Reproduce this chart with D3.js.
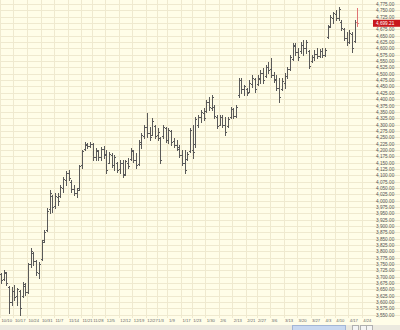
<!DOCTYPE html>
<html>
<head>
<meta charset="utf-8">
<script src="https://cdn.jsdelivr.net/npm/d3@7"></script>
<style>
  body { margin: 0; background: #fffde9; }
  svg { display: block; }
</style>
</head>
<body>
<svg id="chart" width="400" height="330"></svg>
<script>
// week start labels and trading days in each week
const weekLabels = [ "10/10", "10/17", "10/24", "10/31", "11/7", "11/14", "11/21", "11/28", "12/5", "12/12",
  "12/19", "12/27", "1/3", "1/9", "1/17", "1/23", "1/30", "2/6", "2/13", "2/21", "2/27", "3/6", "3/13",
  "3/20", "3/27", "4/3", "4/10", "4/17", "4/24" ];
const weekDays = [ 5, 5, 5, 5, 5, 5, 4, 5, 5, 5, 5, 4, 4, 5, 4, 5, 5, 5, 5, 4, 5, 5, 5, 5, 5, 4, 5, 5, 5 ];

const opens = [ 3710, 3690, 3715, 3660, 3600, 3645, 3625, 3645, 3625, 3665,
  3640, 3750, 3795, 3760, 3715, 3770, 3845, 3885, 3965, 4020,
  3980, 4015, 4020, 4050, 4080, 4110, 4075, 4045, 4030, 4050,
  4140, 4205, 4220, 4215, 4225, 4170, 4195, 4170, 4205, 4185,
  4150, 4180, 4140, 4150, 4125, 4150, 4105, 4150, 4165, 4195,
  4160, 4145, 4225, 4255, 4290, 4265, 4260, 4295, 4260, 4245,
  4255, 4285, 4240, 4275, 4235, 4220, 4205, 4180, 4150, 4165,
  4195, 4200, 4225, 4300, 4330, 4345, 4355, 4390, 4365, 4370,
  4330, 4300, 4330, 4300, 4295, 4330, 4360, 4335, 4415, 4475,
  4440, 4440, 4430, 4460, 4480, 4460, 4480, 4505, 4490, 4525,
  4520, 4495, 4480, 4445, 4440, 4465, 4490, 4520, 4560, 4610,
  4585, 4590, 4615, 4600, 4590, 4550, 4565, 4580, 4570, 4590,
  4575, 4645, 4690, 4720, 4735, 4720, 4705, 4675, 4640, 4625,
  4655, 4630, 4705 ];
const highs = [ 3716, 3728, 3720, 3665, 3660, 3668, 3656, 3649, 3680, 3676,
  3755, 3814, 3799, 3767, 3759, 3846, 3885, 3972, 4043, 4023,
  4031, 4031, 4062, 4094, 4118, 4122, 4082, 4062, 4051, 4141,
  4200, 4232, 4228, 4232, 4228, 4208, 4200, 4212, 4216, 4200,
  4192, 4188, 4181, 4153, 4161, 4161, 4161, 4169, 4208, 4200,
  4188, 4240, 4267, 4299, 4346, 4291, 4326, 4299, 4287, 4251,
  4299, 4291, 4287, 4279, 4247, 4240, 4220, 4200, 4200, 4192,
  4287, 4299, 4330, 4338, 4358, 4366, 4397, 4409, 4417, 4377,
  4338, 4338, 4338, 4330, 4330, 4369, 4366, 4377, 4484, 4484,
  4456, 4444, 4476, 4495, 4484, 4495, 4515, 4523, 4535, 4547,
  4562, 4507, 4495, 4484, 4484, 4503, 4527, 4574, 4621, 4621,
  4602, 4625, 4633, 4633, 4594, 4574, 4594, 4602, 4598, 4602,
  4602, 4692, 4732, 4744, 4751, 4763, 4712, 4681, 4665, 4673,
  4665, 4712, 4760 ];
const lows = [ 3676, 3688, 3668, 3558, 3590, 3610, 3590, 3550, 3621, 3629,
  3637, 3739, 3747, 3708, 3696, 3767, 3838, 3880, 3952, 3956,
  3972, 3984, 4015, 4035, 4062, 4082, 4035, 4023, 4015, 4043,
  4129, 4200, 4208, 4212, 4161, 4161, 4161, 4161, 4169, 4110,
  4149, 4133, 4122, 4114, 4110, 4094, 4100, 4129, 4161, 4153,
  4129, 4141, 4208, 4247, 4251, 4240, 4259, 4247, 4240, 4149,
  4247, 4232, 4228, 4220, 4212, 4200, 4173, 4141, 4110, 4161,
  4192, 4169, 4212, 4291, 4310, 4318, 4350, 4358, 4358, 4326,
  4287, 4299, 4291, 4259, 4291, 4326, 4326, 4330, 4409, 4425,
  4417, 4417, 4429, 4448, 4429, 4456, 4464, 4464, 4488, 4503,
  4488, 4468, 4436, 4389, 4436, 4444, 4484, 4515, 4555, 4574,
  4555, 4582, 4574, 4582, 4523, 4547, 4555, 4562, 4566, 4566,
  4570, 4641, 4684, 4700, 4712, 4712, 4673, 4633, 4614, 4621,
  4586, 4625, 4690 ];
const closes = [ 3685, 3720, 3675, 3600, 3645, 3620, 3650, 3575, 3670, 3640,
  3750, 3800, 3760, 3720, 3750, 3835, 3875, 3960, 4030, 3975,
  4020, 4000, 4055, 4085, 4110, 4090, 4045, 4030, 4040, 4135,
  4195, 4225, 4215, 4225, 4170, 4200, 4170, 4205, 4180, 4120,
  4185, 4140, 4170, 4120, 4150, 4100, 4155, 4135, 4200, 4160,
  4140, 4230, 4260, 4290, 4265, 4250, 4315, 4255, 4270, 4160,
  4290, 4240, 4280, 4230, 4220, 4210, 4180, 4150, 4120, 4185,
  4280, 4190, 4320, 4330, 4350, 4325, 4390, 4370, 4410, 4335,
  4295, 4330, 4300, 4270, 4320, 4360, 4335, 4370, 4475, 4440,
  4450, 4425, 4465, 4485, 4440, 4485, 4505, 4475, 4525, 4515,
  4495, 4475, 4445, 4410, 4470, 4490, 4520, 4565, 4615, 4585,
  4565, 4615, 4600, 4625, 4530, 4565, 4580, 4570, 4590, 4575,
  4595, 4685, 4725, 4740, 4720, 4755, 4680, 4640, 4625, 4660,
  4600, 4705, 4699.21 ];

const yTicks = d3.range( 3550, 4776, 25 );

const WIDTH = 400;
const HEIGHT = 330;
const PLOT = {
  right : 372,
  bottom: 317,
};

const svg = d3.select( "#chart" );

svg.append( "rect" )
  .attr( "width", WIDTH )
  .attr( "height", HEIGHT )
  .attr( "fill", "#fffde8" );

const xRange = d3.scaleLinear().domain( [ 0, 134 ] ).range( [ 1, 1 + 2.7 * 134 ] );
const yRange = d3.scaleLinear().domain( [ 3541, 4791 ] ).range( [ PLOT.bottom, 0 ] );
const crisp = v => Math.round( v ) + 0.5;

// first bar index of every week
const weekStarts = weekDays.map( ( d, i ) => d3.sum( weekDays.slice( 0, i ) ) );

const grid = svg.append( "g" ).attr( "stroke", "#efe9cf" ).attr( "stroke-width", 1 );

grid.selectAll( "line.h" )
  .data( yTicks )
  .enter()
  .append( "line" )
  .attr( "class", "h" )
  .attr( "x1", 0 )
  .attr( "x2", WIDTH )
  .attr( "y1", d => crisp( yRange( d ) ) )
  .attr( "y2", d => crisp( yRange( d ) ) );

grid.selectAll( "line.v" )
  .data( weekStarts )
  .enter()
  .append( "line" )
  .attr( "class", "v" )
  .attr( "x1", d => crisp( xRange( d ) ) - 1 )
  .attr( "x2", d => crisp( xRange( d ) ) - 1 )
  .attr( "y1", 0 )
  .attr( "y2", PLOT.bottom + 1 );

// y axis on the right
const yAxis = d3.axisRight( yRange )
  .tickValues( yTicks )
  .tickSize( 0 )
  .tickPadding( 4 )
  .tickFormat( d3.format( ",.2f" ) );

const yG = svg.append( "g" )
  .attr( "transform", `translate(${PLOT.right},0)` )
  .call( yAxis );
yG.select( ".domain" ).remove();

const last = closes.length - 1;
const lastY = yRange( closes[last] );

yG.selectAll( "text" )
  .attr( "font-family", "'Liberation Sans', Arial, sans-serif" )
  .attr( "font-size", 4.7 )
  .attr( "fill", "#555" )
  .attr( "opacity", d => Math.abs( yRange( d ) - lastY ) < 5.5 ? 0 : 1 );

// x axis
const xAxis = d3.axisBottom( xRange )
  .tickValues( weekStarts )
  .tickSize( 0 )
  .tickPadding( 2 )
  .tickFormat( ( d, i ) => weekLabels[i] );

const xG = svg.append( "g" )
  .attr( "transform", `translate(0,${PLOT.bottom})` )
  .call( xAxis );
xG.select( ".domain" ).remove();
xG.selectAll( "text" )
  .attr( "font-family", "'Liberation Sans', Arial, sans-serif" )
  .attr( "font-size", 4.2 )
  .attr( "fill", "#666" )
  .attr( "text-anchor", "start" );

// ohlc bars
const bars = svg.append( "g" ).attr( "stroke-width", 1 );

const barColor = i => i === last ? "#e07474" : "#5a5a5a";

bars.selectAll( "g.bar" )
  .data( d3.range( opens.length ) )
  .enter()
  .append( "g" )
  .attr( "class", "bar" )
  .attr( "stroke", barColor )
  .each( function ( i ) {
    const g = d3.select( this );
    const x = Math.round( xRange( i ) );
    g.append( "line" )
      .attr( "x1", x + 0.5 ).attr( "x2", x + 0.5 )
      .attr( "y1", Math.round( yRange( highs[i] ) ) )
      .attr( "y2", Math.round( yRange( lows[i] ) ) + 1 );
    g.append( "line" )
      .attr( "x1", x - 1 ).attr( "x2", x )
      .attr( "y1", crisp( yRange( opens[i] ) ) )
      .attr( "y2", crisp( yRange( opens[i] ) ) );
    g.append( "line" )
      .attr( "x1", x + 1 ).attr( "x2", x + 2 )
      .attr( "y1", crisp( yRange( closes[i] ) ) )
      .attr( "y2", crisp( yRange( closes[i] ) ) );
  } );

// last price tag
svg.append( "rect" )
  .attr( "x", PLOT.right + 1 )
  .attr( "y", lastY - 3.5 )
  .attr( "width", WIDTH - PLOT.right - 1 )
  .attr( "height", 7 )
  .attr( "fill", "#c8171c" );

svg.append( "text" )
  .attr( "x", PLOT.right + 4 )
  .attr( "y", lastY + 1.7 )
  .attr( "font-family", "'Liberation Sans', Arial, sans-serif" )
  .attr( "font-size", 4.7 )
  .attr( "fill", "#fff" )
  .text( d3.format( ",.2f" )( closes[last] ) );

// bottom scroller strip
const strip = svg.append( "g" ).attr( "transform", `translate(0,${HEIGHT - 5})` );

strip.append( "rect" )
  .attr( "width", WIDTH )
  .attr( "height", 5 )
  .attr( "fill", "#ebe9df" );

strip.append( "rect" )
  .attr( "x", 292.5 )
  .attr( "y", 0.5 )
  .attr( "width", 53 )
  .attr( "height", 5 )
  .attr( "fill", "#c8d8f0" )
  .attr( "stroke", "#a3b6d6" );

strip.selectAll( "rect.btn" )
  .data( [ 352, 360, 366 ] )
  .enter()
  .append( "rect" )
  .attr( "class", "btn" )
  .attr( "x", d => d + 0.5 )
  .attr( "y", 0.5 )
  .attr( "width", 6 )
  .attr( "height", 5 )
  .attr( "fill", "#f4f4f4" )
  .attr( "stroke", "#b0b0b0" );
</script>
</body>
</html>
